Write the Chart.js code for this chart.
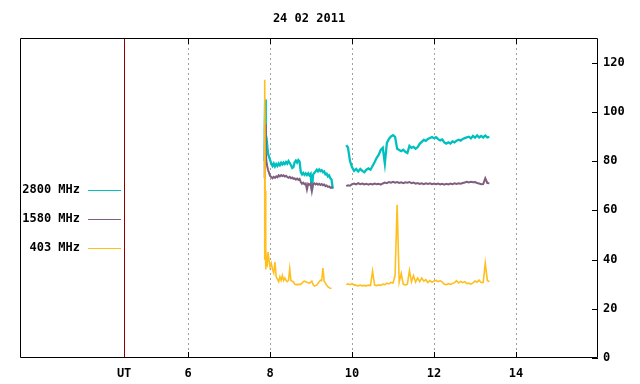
<!DOCTYPE html>
<html><head><meta charset="utf-8">
<script src="https://cdn.jsdelivr.net/npm/chart.js@4"></script>
<style>html,body{margin:0;padding:0;background:#fff}#wrap{width:640px;height:384px}</style>
</head><body><div id="wrap"><canvas id="c" width="640" height="384"></canvas></div>
<script>
const chartTitle = '24 02 2011';
const seriesNames = ['2800 MHz', '1580 MHz', '403 MHz'];
const utLabel = 'UT';
const utHour = 4.44;
const xTickHours = [6, 8, 10, 12, 14];
const yTicks = [0, 20, 40, 60, 80, 100, 120];

const hours = [
  7.86, 7.87, 7.88, 7.89, 7.90, 7.91, 7.93, 7.95, 7.98,
  8.00, 8.03, 8.06, 8.09, 8.12, 8.15, 8.18, 8.21, 8.24, 8.27,
  8.30, 8.33, 8.36, 8.39, 8.42, 8.45, 8.48, 8.51, 8.54, 8.57,
  8.60, 8.63, 8.66, 8.69, 8.72, 8.75, 8.78, 8.81, 8.84, 8.87,
  8.90, 8.93, 8.96, 8.99, 9.02, 9.05, 9.08, 9.11, 9.14, 9.17,
  9.20, 9.23, 9.26, 9.29, 9.32, 9.35, 9.38, 9.41, 9.44, 9.47,
  9.50, 9.53,
  9.70,
  9.86, 9.90, 9.95,
  10.00, 10.05, 10.10, 10.15, 10.20, 10.25, 10.30, 10.35, 10.40, 10.45,
  10.50, 10.55, 10.60, 10.65, 10.70, 10.75, 10.80, 10.85, 10.90, 10.95,
  11.00, 11.05, 11.10, 11.15, 11.20, 11.25, 11.30, 11.35, 11.40, 11.45,
  11.50, 11.55, 11.60, 11.65, 11.70, 11.75, 11.80, 11.85, 11.90, 11.95,
  12.00, 12.05, 12.10, 12.15, 12.20, 12.25, 12.30, 12.35, 12.40, 12.45,
  12.50, 12.55, 12.60, 12.65, 12.70, 12.75, 12.80, 12.85, 12.90, 12.95,
  13.00, 13.05, 13.10, 13.15, 13.20, 13.25, 13.30, 13.35
];

const mhz2800 = [
  80, 92, 105, 100, 90, 84, 86.5, 83, 81.5,
  80.5, 79, 78, 79, 77.8, 78.8, 78, 79, 78.3, 79.3,
  78.6, 79.4, 78.8, 79.6, 79, 80, 79.2, 78.3, 77.2, 77.6,
  79.5, 80.2, 79.4, 80.4, 79.8, 75.5, 74.6, 75.2, 74.4, 75,
  74.3, 75, 74.2, 74.8, 68, 74.5, 75.2, 75.8, 76.5, 75.8,
  76.6, 75.9, 76.3, 75.5, 75.8, 74.6, 74.9, 73.8, 74.2, 73,
  72.5, 68.8,
  null,
  86.5, 85.5, 80,
  77.5, 76, 76.8, 75.8, 76.8, 76, 75.5, 76.5, 77, 76.5,
  78, 79.5, 81.3, 82.5, 84.5, 85.4, 79, 87.4, 89, 90,
  90.5, 89.8, 85, 84.5, 84, 84.6, 83.8, 83.3, 86.2, 85.4,
  85.8, 85, 85.6, 87, 87.8, 88.6, 88.2, 89, 89.4, 89.8,
  89.3, 89.7, 88.9, 88.4, 88.8, 87.6, 87.1, 87.6, 87.1, 88,
  87.6, 88.3, 88.7, 88.3, 89, 89.3, 89.6, 89.9, 89.2, 90.2,
  89.5, 90.4, 89.6, 90.2, 89.6, 90.4, 89.6, 89.8
];

const mhz1580 = [
  73, 80, 95, 91, 84, 80, 78, 76.5, 75,
  74, 73.5, 73, 73.6, 73.2, 73.8, 73.4, 74.2, 73.8, 74.3,
  73.9, 74.2, 73.7, 74, 73.5, 73.2, 73.6, 73, 73.3, 72.8,
  73, 72.5, 72.9, 72.4, 72.8, 71.5, 70.8, 71.2, 70.6, 70.9,
  68.5, 70.8, 70.4, 70.9, 67.8, 70.6, 71, 70.5, 70.9, 70.4,
  70.8, 70.3, 70.7, 70.2, 70.5, 69.8, 70.1, 69.5, 69.7, 69.2,
  69.4, 69,
  null,
  69.8, 70.2, 70.0,
  70.6, 70.9, 70.5, 71.0, 70.6, 70.9, 70.5, 70.8, 70.4, 70.8,
  70.5, 70.9, 70.6, 70.8, 70.4, 70.9, 71.3, 71.0, 71.5, 71.2,
  71.6, 71.2, 71.5, 71.1, 71.4, 71.0, 71.4, 71.2, 71.5, 71.0,
  71.3, 70.8, 71.1, 70.7, 71.0, 70.6, 71.0, 70.7, 71.0, 70.6,
  70.9, 70.6, 70.9, 70.5, 70.8, 70.4, 70.8, 70.5, 70.9, 70.6,
  71.0, 70.7, 71.0, 70.8, 71.1, 71.3, 71.6, 71.3, 71.6, 71.4,
  71.5, 71.1, 70.9, 70.6, 70.7, 73.0, 71.1, 71.0
];

const mhz403 = [
  40, 113, 68, 36, 44, 38, 37.5, 43, 39,
  37, 38.5, 36, 34.5, 39, 33, 32, 31, 33, 31.5,
  33.5, 31.5, 32.5, 31.5, 31, 31.5, 36.3, 31.5, 31.2, 31,
  30, 29.8, 29.9, 29.8, 30, 29.9, 30.4, 31, 31.2, 31,
  30.8, 30.6, 30.4, 30.8, 31.2, 29.8, 29.2, 29.4, 29.6, 30.4,
  31, 31.6, 31.4, 36.5, 31.2, 30.4, 29.6, 29, 28.6, 28.3,
  28.2, null,
  null,
  29.9, 30.1, 29.8,
  30.2, 29.7, 29.5, 29.3, 29.6, 29.3, 29.5, 29.3, 29.6, 29.4,
  35.3, 29.6, 29.4, 29.7, 29.5, 30.0, 29.8, 30.4, 30.1, 30.7,
  30.5, 33.5, 62.2, 30.8, 34.4, 29.9, 29.7, 30.0, 35.5, 31.0,
  33.5, 30.8, 32.5, 31.0, 32.5, 31.2, 31.8, 30.7, 31.5, 30.8,
  31.3, 31.5, 31.0, 31.4, 30.8, 30.0, 29.8, 30.2, 29.9, 30.3,
  30.6, 31.4, 30.5, 31.1, 30.6, 31.0, 30.2, 30.4, 30.0, 30.5,
  31.3, 30.8, 31.6, 30.7, 30.7, 38.5, 31.5, 31.0
];

const colors = { c2800: '#00bfbf', c1580: '#7f5f7f', c403: '#ffbf1f' };
const FONT_FAMILY = '"DejaVu Sans Mono", "Liberation Mono", monospace';
const FONT = 'bold 12px ' + FONT_FAMILY;

function pts(vals) { return hours.map((h, i) => ({ x: h, y: vals[i] })); }

const decor = {
  id: 'decor',
  beforeDatasetsDraw(chart) {
    const { ctx, chartArea: a, scales: { x } } = chart;
    ctx.save();
    ctx.lineWidth = 1;
    ctx.strokeStyle = '#a0a0a0';
    ctx.setLineDash([2, 3]);
    xTickHours.forEach(h => {
      const px = Math.round(x.getPixelForValue(h)) + 0.5;
      ctx.beginPath(); ctx.moveTo(px, a.top); ctx.lineTo(px, a.bottom); ctx.stroke();
    });
    ctx.setLineDash([]);
    ctx.strokeStyle = '#8b0000';
    const ux = Math.round(x.getPixelForValue(utHour)) + 0.5;
    ctx.beginPath(); ctx.moveTo(ux, a.top); ctx.lineTo(ux, a.bottom); ctx.stroke();
    ctx.restore();
  },
  afterDatasetsDraw(chart) {
    const { ctx, chartArea: a, scales: { x, y } } = chart;
    ctx.save();
    ctx.lineWidth = 1;
    ctx.strokeStyle = '#000';
    ctx.beginPath();
    ctx.moveTo(a.left + 0.5, a.top + 0.5);
    ctx.lineTo(a.right - 0.5, a.top + 0.5);
    ctx.lineTo(a.right - 0.5, a.bottom - 0.5);
    ctx.lineTo(a.left + 0.5, a.bottom - 0.5);
    ctx.closePath();
    ctx.stroke();
    xTickHours.forEach(h => {
      const px = Math.round(x.getPixelForValue(h)) + 0.5;
      ctx.beginPath();
      ctx.moveTo(px, a.bottom); ctx.lineTo(px, a.bottom - 6);
      ctx.moveTo(px, a.top); ctx.lineTo(px, a.top + 6);
      ctx.stroke();
    });
    yTicks.forEach(v => {
      const py = Math.round(y.getPixelForValue(v)) + 0.5;
      ctx.beginPath(); ctx.moveTo(a.right, py); ctx.lineTo(a.right - 6, py); ctx.stroke();
    });
    ctx.restore();
  },
  afterDraw(chart) {
    const { ctx, chartArea: a } = chart;
    ctx.save();
    ctx.font = FONT;
    ctx.fillStyle = '#000';
    ctx.textAlign = 'center';
    ctx.textBaseline = 'middle';
    ctx.fillText(chartTitle, (a.left + a.right) / 2, 19);
    const legendCols = [colors.c2800, colors.c1580, colors.c403];
    const legendY = [190, 219, 248];
    ctx.textAlign = 'right';
    seriesNames.forEach((n, i) => {
      ctx.fillStyle = '#000';
      ctx.fillText(n, 80, legendY[i]);
      ctx.strokeStyle = legendCols[i];
      ctx.lineWidth = 1;
      ctx.beginPath(); ctx.moveTo(88, legendY[i] + 0.5); ctx.lineTo(121, legendY[i] + 0.5); ctx.stroke();
    });
    ctx.restore();
  }
};

new Chart(document.getElementById('c'), {
  type: 'line',
  data: {
    datasets: [
      { label: seriesNames[2], data: pts(mhz403), borderColor: colors.c403, borderWidth: 1.6, pointRadius: 0, spanGaps: false, tension: 0 },
      { label: seriesNames[1], data: pts(mhz1580), borderColor: colors.c1580, borderWidth: 2, pointRadius: 0, spanGaps: false, tension: 0 },
      { label: seriesNames[0], data: pts(mhz2800), borderColor: colors.c2800, borderWidth: 2.3, pointRadius: 0, spanGaps: false, tension: 0 }
    ]
  },
  options: {
    responsive: false,
    devicePixelRatio: 1,
    animation: false,
    layout: { padding: { left: 20, top: 38, right: 0, bottom: 0 } },
    plugins: { legend: { display: false }, tooltip: { enabled: false }, title: { display: false } },
    scales: {
      x: {
        type: 'linear', position: 'bottom', min: 1.9, max: 16.0,
        grid: { display: false, drawTicks: false, tickLength: 0 }, border: { display: false },
        afterBuildTicks: s => { s.ticks = [utHour].concat(xTickHours).map(v => ({ value: v })); },
        afterFit: s => { s.height = 26; },
        ticks: {
          autoSkip: false, maxRotation: 0, padding: 9, color: '#000',
          font: { family: FONT_FAMILY, size: 12, weight: 'bold' },
          callback: v => (v === utHour ? utLabel : String(v))
        }
      },
      y: {
        type: 'linear', position: 'right', min: 0, max: 130,
        grid: { display: false, drawTicks: false, tickLength: 0 }, border: { display: false },
        afterBuildTicks: s => { s.ticks = yTicks.map(v => ({ value: v })); },
        afterFit: s => { s.width = 42; },
        ticks: { padding: 5, color: '#000', font: { family: FONT_FAMILY, size: 12, weight: 'bold' } }
      }
    }
  },
  plugins: [decor]
});
</script>
</body></html>
